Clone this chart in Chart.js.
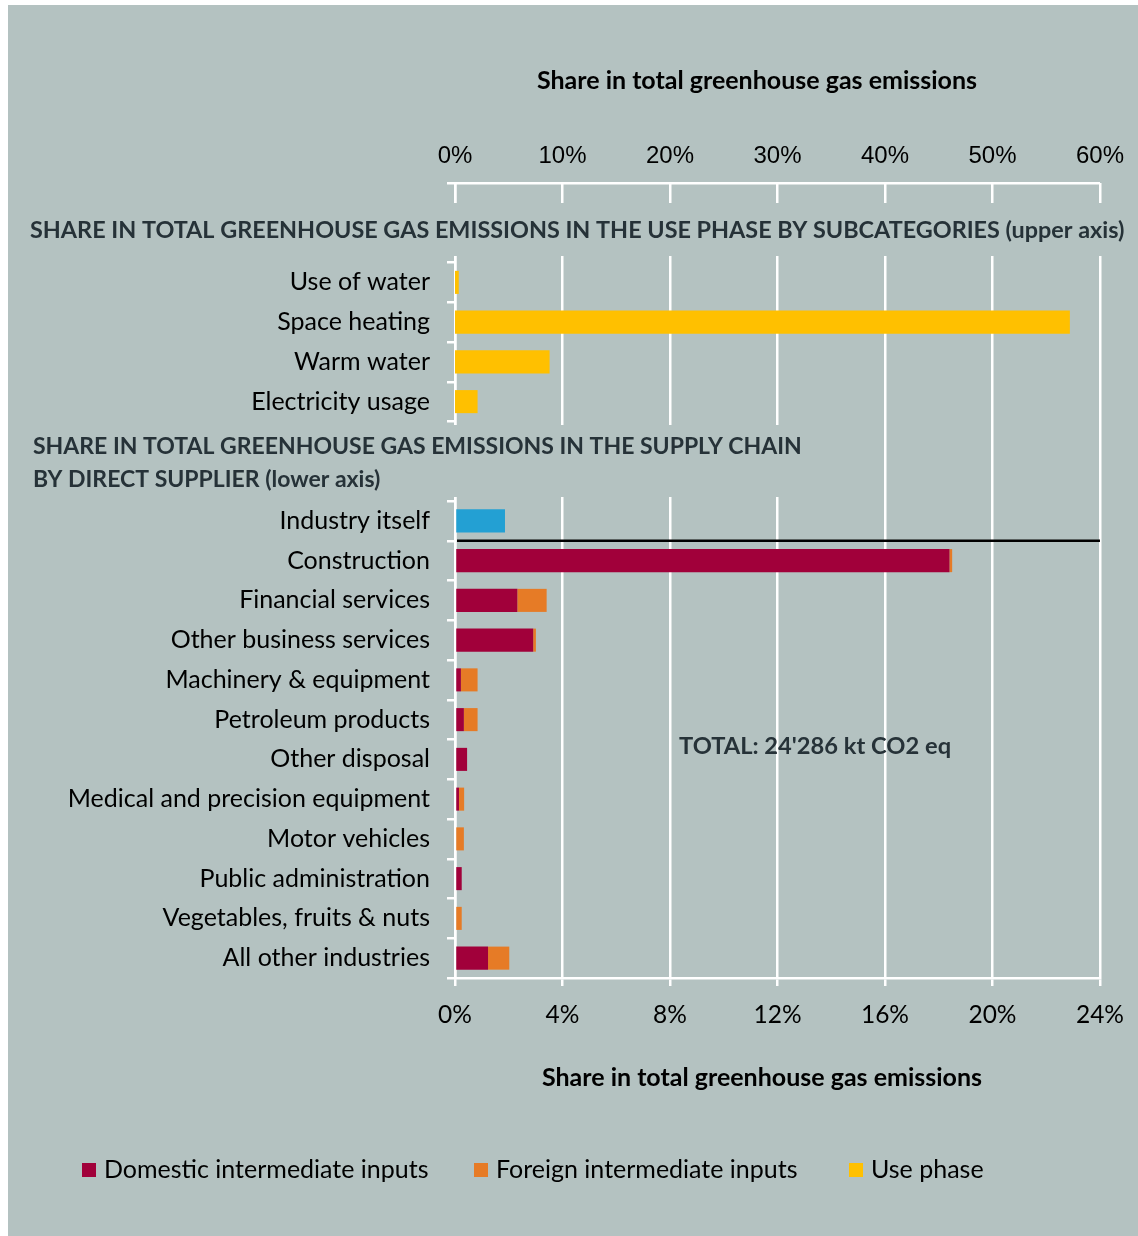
<!DOCTYPE html>
<html lang="en">
<head>
<meta charset="UTF-8" />
<title>Greenhouse gas emissions: use phase and supply chain</title>
<script src="https://cdn.jsdelivr.net/npm/chart.js"></script>
<style>
  body { margin: 0; background: #fff; }
  .panel {
    position: absolute;
    left: 8px;
    top: 5px;
    width: 1130px;
    height: 1231px;
    background: #b4c2c1;
  }
  canvas { display: block; }
</style>
</head>
<body>
<div class="panel"><canvas id="emissions" width="1130" height="1231"></canvas></div>

<script>
  // use phase, upper axis (% of total)
  const useLabels = ['Use of water', 'Space heating', 'Warm water', 'Electricity usage'];
  const useShare = [0.35, 57.2, 8.8, 2.1];

  // supply chain by direct supplier, lower axis (% of total)
  const supplierLabels = [
    'Industry itself', 'Construction', 'Financial services', 'Other business services',
    'Machinery & equipment', 'Petroleum products', 'Other disposal',
    'Medical and precision equipment', 'Motor vehicles', 'Public administration',
    'Vegetables, fruits & nuts', 'All other industries'
  ];
  const industryItself = [1.86];
  const domestic = [18.4, 2.32, 2.91, 0.22, 0.33, 0.45, 0.15, 0, 0.25, 0, 1.23];
  const foreign  = [0.1, 1.09, 0.1, 0.62, 0.51, 0, 0.19, 0.33, 0, 0.25, 0.79];

  const upperTicks = [0, 10, 20, 30, 40, 50, 60];
  const lowerTicks = [0, 4, 8, 12, 16, 20, 24];

  const RED = '#a1003a', ORANGE = '#e67b26', YELLOW = '#ffc000', BLUE = '#23a0d3';
  const BG = '#b4c2c1', INK = '#263238';
  const FONT = 'Lato, "Open Sans", sans-serif';

  // two blank rows above each block leave room for the headings
  const none = n => Array(n).fill(null);
  const rows = ['', ''].concat(useLabels, ['', ''], supplierLabels);
  const useRow = none(2).concat(useShare, none(14));
  const ownRow = none(8).concat(industryItself, none(11));
  const domRow = none(9).concat(domestic);
  const forRow = none(9).concat(foreign);

  const legendItems = [
    ['Domestic intermediate inputs', RED, 74],
    ['Foreign intermediate inputs', ORANGE, 466],
    ['Use phase', YELLOW, 841]
  ];

  const overlay = {
    id: 'overlay',
    beforeDatasetsDraw(chart) {
      // heading boxes sit on top of the grid
      const ctx = chart.ctx;
      ctx.save();
      ctx.fillStyle = BG;
      ctx.fillRect(0, 198, 1130, 53);
      ctx.fillRect(0, 420, 810, 72);
      ctx.restore();
    },
    afterDatasetsDraw(chart) {
      const ctx = chart.ctx, y = chart.scales.y, area = chart.chartArea;
      // rule under "Industry itself"
      const yy = (y.getPixelForValue(8) + y.getPixelForValue(9)) / 2;
      ctx.save();
      ctx.strokeStyle = '#000';
      ctx.lineWidth = 2.5;
      ctx.beginPath();
      ctx.moveTo(area.left + 2, yy);
      ctx.lineTo(area.right, yy);
      ctx.stroke();
      ctx.restore();
    },
    afterDraw(chart) {
      const ctx = chart.ctx;
      ctx.save();
      ctx.textBaseline = 'middle';

      ctx.fillStyle = '#000';
      ctx.font = 'bold 25px ' + FONT;
      ctx.textAlign = 'center';
      ctx.fillText('Share in total greenhouse gas emissions', 749, 76);
      ctx.fillText('Share in total greenhouse gas emissions', 754, 1073);

      ctx.fillStyle = INK;
      ctx.textAlign = 'left';
      ctx.font = 'bold 23.4px ' + FONT;
      ctx.fillText('SHARE IN TOTAL GREENHOUSE GAS EMISSIONS IN THE USE PHASE BY SUBCATEGORIES (upper axis)', 22, 225);
      ctx.font = 'bold 23px ' + FONT;
      ctx.fillText('SHARE IN TOTAL GREENHOUSE GAS EMISSIONS IN THE SUPPLY CHAIN', 25, 442);
      ctx.fillText('BY DIRECT SUPPLIER (lower axis)', 25, 475);
      ctx.font = 'bold 23.7px ' + FONT;
      ctx.fillText("TOTAL: 24'286 kt CO2 eq", 671, 741);

      ctx.font = '25px ' + FONT;
      legendItems.forEach(([text, color, x]) => {
        ctx.fillStyle = color;
        ctx.fillRect(x, 1158, 14, 14);
        ctx.fillStyle = '#000';
        ctx.fillText(text, x + 22, 1165);
      });
      ctx.restore();
    }
  };

  new Chart(document.getElementById('emissions'), {
    type: 'bar',
    data: {
      labels: rows,
      datasets: [
        { label: 'Domestic intermediate inputs', data: domRow, backgroundColor: RED, xAxisID: 'x', stack: 's' },
        { label: 'Foreign intermediate inputs', data: forRow, backgroundColor: ORANGE, xAxisID: 'x', stack: 's' },
        { label: 'Use phase', data: useRow, backgroundColor: YELLOW, xAxisID: 'x2', stack: 's' },
        { label: 'Industry itself', data: ownRow, backgroundColor: BLUE, xAxisID: 'x', stack: 's' }
      ]
    },
    options: {
      indexAxis: 'y',
      responsive: false,
      animation: false,
      barPercentage: 0.58,
      categoryPercentage: 1,
      layout: { padding: { left: 0, right: 38, top: 0, bottom: 0 } },
      plugins: { legend: { display: false }, tooltip: { enabled: false } },
      scales: {
        y: {
          stacked: true,
          offset: true,
          grid: { offset: true, drawOnChartArea: false, color: '#fff', lineWidth: 2.5, tickLength: 8 },
          border: { color: '#fff', width: 2.5 },
          ticks: { autoSkip: false, color: '#000', font: { family: FONT, size: 25 }, padding: 17 },
          afterFit(s) { s.width = 447; }
        },
        x: {
          position: 'bottom',
          stacked: true,
          min: 0,
          max: 24,
          afterBuildTicks(s) { s.ticks = lowerTicks.map(v => ({ value: v })); },
          ticks: { color: '#000', font: { family: FONT, size: 24.5 }, padding: 14, callback: v => v + '%' },
          grid: { color: '#fff', lineWidth: 2.5, tickLength: 8 },
          border: { color: '#fff', width: 2.5 },
          afterFit(s) { s.height = 258; }
        },
        x2: {
          position: 'top',
          min: 0,
          max: 60,
          afterBuildTicks(s) { s.ticks = upperTicks.map(v => ({ value: v })); },
          ticks: { color: '#000', font: { family: '"Liberation Sans", Arial, sans-serif', size: 24 }, padding: 4, callback: v => v + '%' },
          grid: { display: false },
          border: { color: '#fff', width: 2.5 },
          afterFit(s) { s.height = 178; }
        }
      }
    },
    plugins: [overlay]
  });
</script>
</body>
</html>
